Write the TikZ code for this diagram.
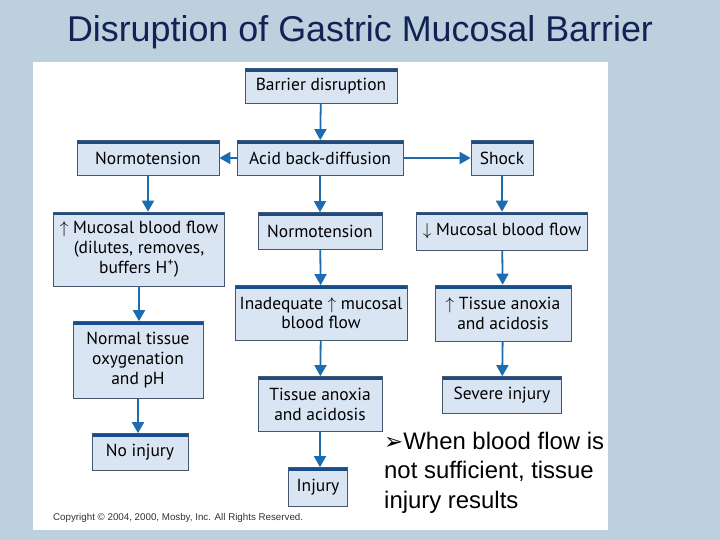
\documentclass[tikz,border=0pt]{standalone}
\usepackage{fontspec}
\setmainfont{Liberation Sans}
\newfontfamily\boxfont{PT Sans}
\newfontfamily\symfont{DejaVu Sans}
\usetikzlibrary{arrows.meta}

\definecolor{slidebg}{RGB}{188,208,222}
\definecolor{titleblue}{RGB}{18,34,84}
\definecolor{boxfill}{RGB}{218,229,244}
\definecolor{boxedge}{RGB}{70,86,110}
\definecolor{topedge}{RGB}{22,78,140}
\definecolor{flowblue}{RGB}{30,108,176}

\tikzset{
  box/.style={draw=boxedge, fill=boxfill, line width=0.7pt, inner sep=0pt,
    align=center, font=\boxfont\fontsize{17.5}{20}\selectfont,
    path picture={\fill[topedge] (path picture bounding box.north west)
      rectangle ([yshift=-3.5bp]path picture bounding box.north east);}},
  flow/.style={->, line width=1.8bp, draw=flowblue},
}

\begin{document}
\begin{tikzpicture}[x=1bp, y=-1bp, >={Triangle[width=12bp,length=11bp]}]
    % slide and panel
    \fill[slidebg] (0,0) rectangle (720,540);
    \fill[white] (33,62) rectangle (608,530);
    \useasboundingbox (0,0) rectangle (720,540);
    \node[text=titleblue, font=\fontsize{36}{40}\selectfont] (title) at (360,32) {Disruption of Gastric Mucosal Barrier};

    % top row
    \node[box, minimum width=152bp, minimum height=35bp] (bar) at (321,86) {Barrier disruption};
    \node[box, minimum width=166bp, minimum height=35bp] (acid) at (320,158) {Acid back-diffusion};
    \node[box, minimum width=142bp, minimum height=35bp] (normL) at (148,158) {Normotension};
    \node[box, minimum width=62bp, minimum height=35bp] (shock) at (502,158) {Shock};

    % left column
    \node[box, minimum width=171bp, minimum height=74bp] (mbfL) at (139,249) {$\uparrow$ Mucosal blood flow\\(dilutes, removes,\\buffers H\textsuperscript{+})};
    \node[box, minimum width=130bp, minimum height=77bp] (oxy) at (138,360) {Normal tissue\\oxygenation\\and pH};
    \node[box, minimum width=96bp, minimum height=37bp] (noinj) at (140,452) {No injury};

    % middle column
    \node[box, minimum width=124bp, minimum height=37bp] (normM) at (320,231) {Normotension};
    \node[box, minimum width=172bp, minimum height=55bp] (inad) at (321,313) {Inadequate $\uparrow$ mucosal\\blood flow};
    \node[box, minimum width=124bp, minimum height=55bp] (anoxM) at (320,404) {Tissue anoxia\\and acidosis};
    \node[box, minimum width=59bp, minimum height=39bp] (injury) at (318,487) {Injury};

    % right column
    \node[box, minimum width=171bp, minimum height=38bp] (mbfR) at (502,231) {$\downarrow$ Mucosal blood flow};
    \node[box, minimum width=136bp, minimum height=56bp] (anoxR) at (503,313) {$\uparrow$ Tissue anoxia\\and acidosis};
    \node[box, minimum width=119bp, minimum height=37bp] (severe) at (502,395) {Severe injury};

    % arrows
    \draw[flow] (bar) -- (acid);
    \draw[flow] (acid) -- (normL);
    \draw[flow] (acid) -- (shock);
    \draw[flow] (acid) -- (normM);
    \draw[flow] (normL.south) -- (normL.south |- mbfL.north);
    \draw[flow] (mbfL.south) -- (mbfL.south |- oxy.north);
    \draw[flow] (oxy.south) -- (oxy.south |- noinj.north);
    \draw[flow] (normM) -- (inad);
    \draw[flow] (inad) -- (anoxM);
    \draw[flow] (anoxM.south) -- (anoxM.south |- injury.north);
    \draw[flow] (shock) -- (mbfR);
    \draw[flow] (mbfR) -- (anoxR);
    \draw[flow] (anoxR) -- (severe);

    % notes
    \node[anchor=west, inner sep=0pt, text=black!80, font=\fontsize{9.8}{11}\selectfont] (copy) at (53,518) {Copyright \textcopyright\ 2004, 2000, Mosby, Inc. All Rights Reserved.};
    \node[anchor=north west, align=left, inner sep=0pt, font=\fontsize{24}{29.5}\selectfont] (note) at (384,432) {{\symfont\fontsize{23}{29.5}\selectfont ➢}When blood flow is\\not sufficient, tissue\\injury results};
\end{tikzpicture}
\end{document}
